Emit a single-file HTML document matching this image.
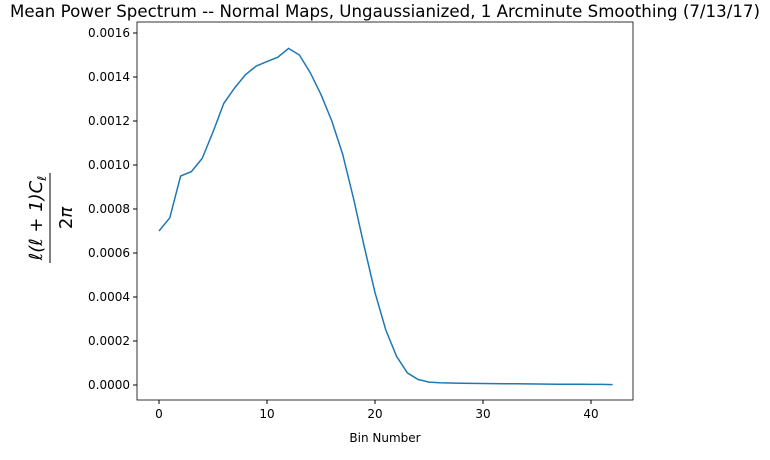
<!DOCTYPE html>
<html><head><meta charset="utf-8"><style>
body{margin:0;background:#fff;}
svg text{font-family:"DejaVu Sans","Liberation Sans",sans-serif;}
</style></head><body>
<svg width="770" height="455" viewBox="0 0 770 455">
<rect width="770" height="455" fill="#fff"/>
<g id="yt"></g>
<g id="xt"></g>
<path id="line" fill="none" stroke="#1f77b4" stroke-width="1.5"/>
<rect x="137" y="22" width="496" height="378" fill="none" stroke="#000" stroke-width="0.8"/>
<text x="385" y="17" text-anchor="middle" font-size="16.6" textLength="750" lengthAdjust="spacingAndGlyphs">Mean Power Spectrum -- Normal Maps, Ungaussianized, 1 Arcminute Smoothing (7/13/17)</text>
<text x="385" y="442" text-anchor="middle" font-size="12">Bin Number</text>
<g transform="translate(45,218) rotate(-90)">
<text x="0" y="-3" text-anchor="middle" font-size="18" font-style="italic" font-family="DejaVu Serif,serif">ℓ(ℓ + 1)C<tspan font-size="12" dy="4">ℓ</tspan></text>
<line x1="-45" y1="5" x2="45" y2="5" stroke="#000" stroke-width="1"/>
<text x="0" y="27" text-anchor="middle" font-size="18" font-family="DejaVu Serif,serif">2<tspan font-style="italic">π</tspan></text>
</g>
</svg>
<script>
const bins=[0,1,2,3,4,5,6,7,8,9,10,11,12,13,14,15,16,17,18,19,20,21,22,23,24,25,26,27,28,29,30,31,32,33,34,35,36,37,38,39,40,41,42];
const values=[0.00070,0.00076,0.00095,0.00097,0.00103,0.00115,0.00128,0.00135,0.00141,0.00145,0.00147,0.00149,0.00153,0.00150,0.00142,0.00132,0.00120,0.00105,0.00085,0.00063,0.00042,0.00025,0.00013,0.000055,0.000025,0.000013,0.000010,0.000009,0.000008,0.0000075,0.000007,0.0000065,0.000006,0.0000055,0.000005,0.0000045,0.000004,0.0000035,0.000003,0.000003,0.0000025,0.0000025,0.000002];
const yTicks=[0,0.0002,0.0004,0.0006,0.0008,0.0010,0.0012,0.0014,0.0016];
const xTicks=[0,10,20,30,40];
const NS='http://www.w3.org/2000/svg';
const sx=v=>159+v*10.8;
const sy=v=>385-v*(352/0.0016);
let d='';
bins.forEach((b,i)=>{d+=(i?'L':'M')+sx(b).toFixed(1)+','+sy(values[i]).toFixed(1);});
document.getElementById('line').setAttribute('d',d);
const yt=document.getElementById('yt');
yTicks.forEach(t=>{
 const y=sy(t);
 const l=document.createElementNS(NS,'line');
 l.setAttribute('x1',133);l.setAttribute('x2',137);l.setAttribute('y1',y);l.setAttribute('y2',y);l.setAttribute('stroke','#000');
 
 
 yt.appendChild(l);
 const tx=document.createElementNS(NS,'text');
 tx.setAttribute('x',130);tx.setAttribute('y',y+4);tx.setAttribute('text-anchor','end');tx.setAttribute('font-size','12');
 tx.textContent=t.toFixed(4);
 
 
 yt.appendChild(tx);
});
const xt=document.getElementById('xt');
xTicks.forEach(t=>{
 const x=sx(t);
 const l=document.createElementNS(NS,'line');
 l.setAttribute('x1',x);l.setAttribute('x2',x);l.setAttribute('y1',400);l.setAttribute('y2',404);l.setAttribute('stroke','#000');
 
 
 xt.appendChild(l);
 const tx=document.createElementNS(NS,'text');
 tx.setAttribute('x',x);tx.setAttribute('y',418);tx.setAttribute('text-anchor','middle');tx.setAttribute('font-size','12');
 tx.textContent=t;
 
 
 xt.appendChild(tx);
});
</script>
</body></html>
